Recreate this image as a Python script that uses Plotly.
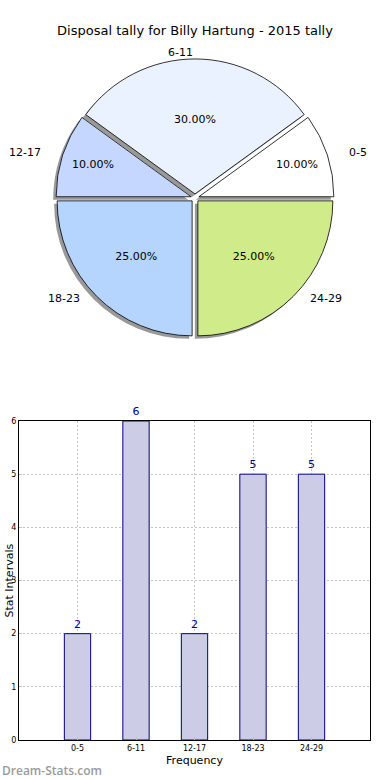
import math
import plotly.graph_objects as go

categories = ["0-5", "6-11", "12-17", "18-23", "24-29"]
tally = [2, 6, 2, 5, 5]
pie_colors = ["#FFFFFF", "#EBF2FF", "#C5D7FF", "#B5D5FF", "#D0EB8A"]
title_text = "Disposal tally for Billy Hartung - 2015 tally"
x_title = "Frequency"
y_title = "Stat Intervals"
y_ticks = [0, 1, 2, 3, 4, 5, 6]

W, H = 390, 780
FONT = "DejaVu Sans"

def px_x(p):
    return p / W

def px_y(p):
    return 1 - p / H

# pie geometry (page pixels)
cx, cy, r, pull = 195, 198, 135, 0.03
half = r * (1 + pull)
dom_x = [px_x(cx - half), px_x(cx + half)]
dom_y = [px_y(cy + half), px_y(cy - half)]
sh = 3
dom_x_sh = [px_x(cx - half - sh), px_x(cx + half - sh)]
dom_y_sh = [px_y(cy + half + sh), px_y(cy - half + sh)]

total = sum(tally)
# first slice starts at 3 o'clock and runs counterclockwise
rot = 90 - 360 * tally[0] / total

fig = go.Figure()

common = dict(labels=categories, values=tally, sort=False, direction="counterclockwise",
              rotation=rot, pull=[pull] * len(tally), showlegend=False)

# shadow
fig.add_trace(go.Pie(
    **common,
    marker=dict(colors=["#999999"] * len(tally), line=dict(width=0)),
    textinfo="none", hoverinfo="skip",
    domain=dict(x=dom_x_sh, y=dom_y_sh),
))
# main pie with percentages
fig.add_trace(go.Pie(
    **common,
    marker=dict(colors=pie_colors, line=dict(color="#000000", width=0.8)),
    texttemplate="%{percent:.2%}", textposition="inside",
    insidetextorientation="horizontal",
    textfont=dict(family=FONT, size=11, color="#000000"),
    domain=dict(x=dom_x, y=dom_y),
))

# category labels outside the pie, at 1.1 radius on each slice's mid-angle
annotations = []
lab_rx, lab_ry = 145 * 1.1, 131 * 1.1
cum = 0
for cat, v in zip(categories, tally):
    mid = 2 * math.pi * (cum + v / 2) / total
    cum += v
    c, s = math.cos(mid), math.sin(mid)
    annotations.append(dict(
        text=cat, xref="paper", yref="paper",
        x=px_x(cx + lab_rx * c), y=px_y(cy - 1 - lab_ry * s),
        xanchor="left" if round(c, 6) > 0 else "right", yanchor="middle",
        showarrow=False, font=dict(family=FONT, size=11, color="#000000"),
    ))

# y axis title at the left edge
annotations.append(dict(
    text=y_title, xref="paper", yref="paper", x=px_x(0), y=px_y(581),
    xanchor="left", yanchor="middle", textangle=-90, showarrow=False,
    font=dict(family=FONT, size=11, color="#000000"),
))

annotations.append(dict(
    text="Dream-Stats.com", x=px_x(0), xanchor="left", xref="paper",
    y=px_y(770), yref="paper", yanchor="middle", showarrow=False,
    font=dict(family="Open Sans", size=12, color="#9a9a9a", weight=600),
))

# bar chart
fig.add_trace(go.Bar(
    x=categories, y=tally, width=0.45,
    marker=dict(color="#CCCCE6", line=dict(color="#000080", width=1)),
    text=tally, textposition="outside", cliponaxis=False,
    textfont=dict(family=FONT, size=11, color="#000080"),
    showlegend=False,
    xaxis="x", yaxis="y",
))

grid = dict(showgrid=True, gridcolor="#c4c4c4", griddash="2px,2px", gridwidth=1)

fig.update_layout(
    width=W, height=H,
    margin=dict(l=0, r=0, t=0, b=0, autoexpand=False),
    paper_bgcolor="white", plot_bgcolor="white",
    font=dict(family=FONT, size=11, color="#000000"),
    title=dict(text=title_text, x=px_x(195), xanchor="center", y=px_y(30), yanchor="middle",
               font=dict(family=FONT, size=13, color="#000000")),
    xaxis=dict(
        domain=[px_x(19), px_x(370)], anchor="y", type="category",
        range=[-1, 5], automargin=False,
        showline=True, mirror=True, linecolor="#000000", linewidth=1,
        **grid,
        ticks="inside", ticklen=3, tickcolor="#c0c0c0",
        tickfont=dict(family=FONT, size=8, color="#000000"),
        title=dict(text=x_title, standoff=4, font=dict(family=FONT, size=11)),
        zeroline=False,
    ),
    yaxis=dict(
        domain=[px_y(740), px_y(421)], anchor="x",
        range=[0, 6], tickvals=y_ticks, automargin=False,
        showline=True, mirror=True, linecolor="#000000", linewidth=1,
        **grid,
        ticks="inside", ticklen=3, tickcolor="#c0c0c0",
        tickfont=dict(family=FONT, size=8, color="#000000"),
        zeroline=False,
    ),
    annotations=annotations,
)

# remove the browser's default 8px body margin so the figure fills the window
fig.write_html(
    "out.html",
    config={"displayModeBar": False},
    post_script="document.body.style.margin='0px';document.body.style.overflow='hidden';",
)
